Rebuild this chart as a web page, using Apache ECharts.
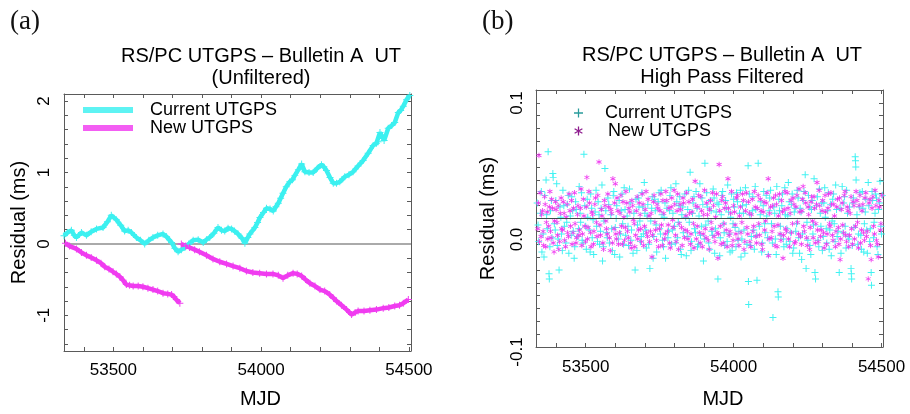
<!DOCTYPE html>
<html><head><meta charset="utf-8">
<script src="https://cdn.jsdelivr.net/npm/echarts@6/dist/echarts.min.js"></script>
<style>html,body{margin:0;padding:0;background:#fff}#c{width:910px;height:414px}</style>
</head><body><div id="c"></div>
<script>
// ---------- data ----------
const seriesNames = ['Current UTGPS', 'New UTGPS'];
const panelLabels = ['(a)', '(b)'];
const titleA = ['RS/PC UTGPS \u2013 Bulletin A  UT', '(Unfiltered)'];
const titleB = ['RS/PC UTGPS \u2013 Bulletin A  UT', 'High Pass Filtered'];
const xName = 'MJD';
const yName = 'Residual (ms)';
const xTickLabels = [53500, 54000, 54500];
const yTickLabelsA = [-1, 0, 1, 2];
const yTickLabelsB = [-0.1, 0.0, 0.1];

// (a) unfiltered residuals [MJD, ms]
const currentUnfiltered = [[53333,0.115],[53345,0.16],[53358,0.19],[53368,0.12],[53375,0.09],[53392,0.16],[53409,0.12],[53425,0.17],[53443,0.21],[53465,0.23],[53480,0.31],[53493,0.40],[53510,0.34],[53525,0.26],[53538,0.18],[53550,0.19],[53561,0.16],[53578,0.09],[53592,0.05],[53606,0.0],[53620,0.05],[53634,0.09],[53650,0.12],[53668,0.14],[53680,0.10],[53697,0.02],[53708,-0.06],[53719,-0.11],[53730,-0.08],[53742,-0.05],[53755,0.0],[53770,0.05],[53787,0.06],[53804,0.02],[53815,0.06],[53826,0.09],[53840,0.15],[53854,0.23],[53866,0.19],[53877,0.18],[53888,0.22],[53900,0.21],[53910,0.18],[53922,0.14],[53935,0.08],[53945,0.01],[53955,0.09],[53962,0.14],[53979,0.23],[53988,0.30],[53996,0.37],[54008,0.44],[54018,0.50],[54030,0.49],[54041,0.46],[54050,0.52],[54058,0.57],[54066,0.64],[54074,0.71],[54085,0.80],[54097,0.87],[54106,0.90],[54114,0.96],[54126,1.04],[54137,1.12],[54148,1.01],[54162,1.00],[54176,1.00],[54190,1.06],[54204,1.11],[54212,1.08],[54221,1.03],[54233,0.93],[54244,0.85],[54255,0.85],[54266,0.87],[54283,0.94],[54297,0.97],[54311,1.01],[54328,1.09],[54345,1.17],[54362,1.27],[54379,1.38],[54390,1.41],[54396,1.43],[54402,1.56],[54410,1.50],[54416,1.45],[54430,1.62],[54442,1.66],[54452,1.70],[54464,1.84],[54472,1.87],[54481,1.93],[54492,2.02],[54503,2.08]];
const newUnfiltered = [[53338,0.01],[53352,-0.03],[53375,-0.07],[53392,-0.12],[53409,-0.16],[53425,-0.19],[53443,-0.23],[53458,-0.27],[53471,-0.32],[53485,-0.35],[53499,-0.39],[53510,-0.42],[53522,-0.46],[53533,-0.51],[53544,-0.57],[53555,-0.58],[53567,-0.59],[53584,-0.59],[53600,-0.60],[53617,-0.62],[53634,-0.64],[53650,-0.66],[53668,-0.69],[53684,-0.70],[53697,-0.71],[53705,-0.74],[53713,-0.78],[53725,-0.83],[53727,'-'],[53730,0.0],[53745,-0.03],[53758,-0.05],[53775,-0.08],[53791,-0.11],[53815,-0.16],[53837,-0.21],[53860,-0.25],[53883,-0.28],[53905,-0.31],[53928,-0.34],[53950,-0.38],[53972,-0.40],[53995,-0.41],[54018,-0.42],[54040,-0.42],[54058,-0.44],[54074,-0.48],[54090,-0.44],[54108,-0.41],[54122,-0.42],[54137,-0.45],[54150,-0.50],[54165,-0.55],[54182,-0.59],[54199,-0.64],[54215,-0.66],[54232,-0.71],[54245,-0.76],[54255,-0.80],[54272,-0.86],[54289,-0.92],[54306,-0.99],[54318,-0.96],[54328,-0.94],[54348,-0.94],[54368,-0.93],[54390,-0.92],[54413,-0.90],[54432,-0.89],[54452,-0.87],[54468,-0.86],[54481,-0.83],[54498,-0.78]];

// (b) high pass filtered residuals [MJD, ms]
const currentFiltered = [[53336,0.012],[53341,-0.018],[53347,0.004],[53352,-0.026],[53359,-0.030],[53362,0.018],[53366,0.030],[53370,-0.008],[53373,0.052],[53376,-0.043],[53377,-0.047],[53381,0.006],[53386,-0.015],[53389,0.035],[53390,0.032],[53394,-0.004],[53399,0.014],[53404,-0.021],[53410,-0.040],[53413,0.009],[53418,-0.012],[53423,0.022],[53428,-0.006],[53433,-0.019],[53438,0.011],[53443,-0.027],[53448,0.002],[53453,0.017],[53458,-0.010],[53463,-0.022],[53468,0.007],[53473,-0.014],[53478,0.025],[53483,-0.003],[53488,-0.017],[53494,0.050],[53497,0.010],[53502,-0.024],[53507,0.001],[53512,-0.009],[53517,0.019],[53522,-0.015],[53527,-0.028],[53532,0.005],[53537,-0.006],[53542,0.013],[53547,-0.020],[53552,0.008],[53557,-0.033],[53562,-0.002],[53565,0.039],[53570,-0.011],[53575,0.016],[53580,-0.019],[53585,0.003],[53590,-0.025],[53595,0.021],[53600,-0.007],[53605,0.010],[53610,-0.016],[53615,-0.030],[53620,0.006],[53625,-0.004],[53630,0.024],[53635,-0.013],[53640,0.002],[53645,-0.021],[53650,0.012],[53655,-0.009],[53660,-0.027],[53667,-0.040],[53670,0.015],[53675,-0.005],[53680,0.009],[53685,-0.018],[53690,0.020],[53695,-0.012],[53700,0.004],[53705,-0.023],[53710,0.011],[53717,-0.039],[53720,-0.002],[53725,0.017],[53730,-0.014],[53735,0.006],[53740,-0.026],[53745,0.013],[53750,-0.008],[53755,0.022],[53760,-0.017],[53765,0.001],[53770,-0.031],[53775,0.008],[53780,-0.010],[53785,0.018],[53790,-0.020],[53795,0.004],[53800,-0.006],[53805,0.027],[53810,-0.015],[53815,0.010],[53820,-0.024],[53825,0.003],[53830,-0.011],[53835,0.019],[53840,-0.029],[53845,0.007],[53850,-0.003],[53853,0.036],[53858,-0.018],[53863,0.012],[53868,-0.008],[53873,0.021],[53878,-0.022],[53883,0.002],[53888,-0.013],[53893,0.016],[53898,-0.033],[53903,0.043],[53906,-0.005],[53911,0.009],[53916,-0.019],[53921,0.014],[53926,-0.010],[53931,0.023],[53936,-0.027],[53941,0.005],[53947,-0.047],[53950,0.011],[53955,-0.015],[53960,0.018],[53965,-0.004],[53970,-0.021],[53975,0.008],[53980,0.026],[53985,-0.012],[53990,0.001],[53995,-0.025],[54000,0.015],[54005,-0.007],[54010,0.020],[54015,-0.017],[54020,0.004],[54025,-0.030],[54030,0.010],[54035,-0.009],[54040,0.024],[54045,-0.020],[54049,0.041],[54050,-0.049],[54051,-0.067],[54055,0.003],[54060,-0.014],[54065,0.017],[54070,-0.024],[54075,0.007],[54079,-0.048],[54083,0.043],[54087,-0.006],[54092,0.013],[54097,-0.019],[54102,0.021],[54107,-0.011],[54112,0.002],[54117,-0.028],[54122,0.016],[54128,-0.004],[54133,-0.077],[54136,0.009],[54141,-0.016],[54146,0.025],[54150,-0.057],[54151,-0.061],[54155,0.006],[54160,-0.013],[54165,0.019],[54170,-0.022],[54175,0.003],[54180,-0.008],[54185,0.028],[54190,-0.018],[54195,0.011],[54200,-0.027],[54205,0.005],[54210,-0.010],[54215,0.022],[54220,-0.015],[54225,0.008],[54230,-0.032],[54235,0.014],[54242,0.034],[54245,-0.039],[54248,-0.003],[54253,0.018],[54258,-0.021],[54263,0.007],[54268,-0.012],[54272,0.031],[54275,-0.042],[54277,-0.047],[54280,0.010],[54285,-0.017],[54290,0.023],[54295,-0.006],[54300,-0.025],[54305,0.012],[54310,0.001],[54315,-0.019],[54320,0.020],[54325,-0.009],[54330,-0.029],[54335,0.015],[54340,-0.004],[54345,0.026],[54350,-0.014],[54357,-0.042],[54360,0.008],[54367,0.025],[54370,-0.011],[54375,0.017],[54380,-0.023],[54385,0.004],[54390,-0.016],[54397,-0.039],[54398,-0.043],[54399,-0.047],[54403,0.012],[54407,-0.007],[54411,0.048],[54412,0.045],[54413,0.040],[54414,0.030],[54420,-0.020],[54425,0.009],[54430,-0.013],[54435,0.021],[54440,-0.026],[54445,0.005],[54450,-0.009],[54455,0.028],[54460,-0.018],[54465,-0.042],[54466,-0.052],[54470,0.014],[54475,-0.003],[54480,0.019],[54485,-0.022],[54490,0.007],[54495,0.029],[54500,-0.012],
[53339,-0.005],[53350,0.021],[53356,-0.012],[53368,0.003],[53379,-0.022],[53384,0.014],[53397,-0.009],[53402,0.027],[53407,-0.016],[53416,0.001],[53421,-0.025],[53426,0.010],[53436,-0.003],[53441,0.018],[53451,-0.013],[53456,0.006],[53461,-0.031],[53466,0.013],[53476,-0.008],[53481,0.004],[53486,0.020],[53491,-0.019],[53500,-0.006],[53505,0.015],[53515,-0.026],[53520,0.008],[53525,-0.001],[53535,0.022],[53540,-0.018],[53545,0.003],[53550,-0.010],[53555,0.026],[53560,-0.022],[53568,0.006],[53573,-0.015],[53578,0.011],[53588,-0.008],[53593,0.018],[53598,-0.028],[53603,0.000],[53613,0.014],[53618,-0.012],[53623,0.019],[53628,-0.020],[53633,0.007],[53643,-0.006],[53648,0.023],[53653,-0.017],[53663,0.004],[53673,-0.025],[53678,0.016],[53683,-0.002],[53688,-0.014],[53693,0.009],[53698,0.028],[53703,-0.009],[53708,0.002],[53713,-0.020],[53723,0.008],[53728,-0.031],[53733,0.015],[53738,-0.005],[53748,0.020],[53753,-0.012],[53758,0.003],[53763,-0.022],[53768,0.012],[53778,-0.015],[53783,0.006],[53788,0.024],[53793,-0.009],[53803,-0.019],[53808,0.013],[53813,-0.003],[53818,0.017],[53823,-0.028],[53828,0.009],[53838,0.001],[53843,-0.014],[53848,0.022],[53856,-0.025],[53861,0.004],[53866,0.017],[53871,-0.011],[53876,0.008],[53881,-0.020],[53886,0.027],[53891,-0.006],[53896,0.011],[53901,-0.016],[53909,0.020],[53914,-0.002],[53919,-0.024],[53924,0.006],[53929,-0.013],[53934,0.016],[53939,-0.008],[53944,0.012],[53953,-0.029],[53958,0.003],[53963,0.021],[53968,-0.011],[53973,0.014],[53978,-0.018],[53983,0.005],[53988,-0.026],[53993,0.019],[53998,-0.004],[54003,0.009],[54008,-0.022],[54013,0.013],[54018,-0.010],[54023,0.022],[54028,-0.016],[54033,0.004],[54038,-0.027],[54043,0.011],[54053,0.019],[54058,-0.021],[54063,0.006],[54068,-0.009],[54073,0.025],[54078,-0.013],[54090,0.003],[54095,-0.026],[54100,0.010],[54105,-0.004],[54110,0.018],[54115,-0.015],[54120,0.006],[54125,0.022],[54131,-0.019],[54139,0.004],[54144,-0.028],[54153,0.015],[54158,-0.006],[54163,0.010],[54168,-0.016],[54173,0.024],[54178,-0.020],[54183,0.002],[54188,0.013],[54193,-0.011],[54198,0.019],[54203,-0.023],[54208,0.008],[54213,-0.004],[54218,0.016],[54223,-0.027],[54228,0.005],[54233,-0.012],[54238,0.021],[54251,-0.017],[54256,0.009],[54261,-0.028],[54266,0.014],[54270,-0.005],[54283,0.017],[54288,-0.022],[54293,0.004],[54298,0.012],[54303,-0.014],[54308,0.024],[54313,-0.008],[54318,0.006],[54323,-0.024],[54328,0.011],[54333,-0.002],[54338,0.019],[54343,-0.018],[54348,0.007],[54353,-0.010],[54363,-0.027],[54372,0.012],[54377,-0.006],[54382,0.022],[54387,-0.014],[54392,0.009],[54401,-0.021],[54405,0.016],[54417,0.003],[54422,-0.012],[54427,0.020],[54432,-0.024],[54437,0.008],[54442,-0.004],[54447,0.015],[54452,-0.027],[54457,0.010],[54462,-0.008],[54468,0.021],[54473,-0.015],[54478,0.004],[54483,0.016],[54488,-0.028],[54493,0.012],[54498,-0.006],[54503,0.018]];
const newFiltered = [[53338,-0.008],[53342,0.049],[53346,0.020],[53349,-0.014],[53354,0.006],[53358,-0.021],[53363,0.011],[53367,-0.003],[53372,-0.016],[53377,0.009],[53381,-0.010],[53385,0.015],[53390,-0.019],[53395,-0.002],[53400,0.007],[53405,-0.013],[53409,-0.024],[53414,0.004],[53419,-0.008],[53424,0.013],[53429,-0.017],[53434,0.001],[53439,-0.011],[53444,0.019],[53449,-0.006],[53454,-0.020],[53459,0.008],[53464,-0.004],[53469,-0.015],[53474,0.010],[53479,-0.009],[53484,0.023],[53489,-0.012],[53494,0.002],[53499,-0.018],[53504,0.032],[53508,-0.007],[53513,0.012],[53518,-0.022],[53523,0.003],[53528,-0.010],[53533,0.016],[53538,-0.014],[53545,0.044],[53548,-0.005],[53553,0.007],[53558,-0.019],[53563,0.014],[53568,-0.002],[53573,-0.012],[53578,0.009],[53583,-0.025],[53588,0.004],[53592,0.031],[53596,-0.008],[53600,0.027],[53604,-0.016],[53609,0.006],[53614,-0.011],[53619,0.018],[53624,-0.020],[53629,0.001],[53634,-0.007],[53639,0.012],[53644,-0.015],[53649,0.005],[53654,-0.023],[53659,0.010],[53664,-0.004],[53669,-0.013],[53674,0.017],[53679,-0.009],[53684,0.003],[53689,-0.018],[53694,0.011],[53699,-0.006],[53704,0.021],[53709,-0.014],[53714,0.002],[53719,-0.010],[53724,-0.030],[53729,0.013],[53734,-0.003],[53739,-0.017],[53744,0.008],[53749,-0.008],[53754,0.019],[53759,-0.021],[53764,0.004],[53769,-0.012],[53774,0.014],[53779,-0.005],[53784,-0.019],[53789,0.009],[53794,-0.001],[53799,0.022],[53804,-0.013],[53809,0.006],[53814,-0.024],[53819,0.011],[53824,-0.007],[53829,0.016],[53834,-0.015],[53839,0.002],[53844,-0.010],[53849,0.013],[53854,-0.020],[53859,0.005],[53864,-0.004],[53870,0.029],[53874,-0.016],[53879,0.009],[53884,-0.011],[53889,0.017],[53894,-0.022],[53899,0.003],[53904,-0.008],[53909,0.012],[53914,-0.017],[53919,0.007],[53924,-0.003],[53929,0.020],[53934,-0.014],[53939,0.001],[53944,-0.011],[53947,-0.031],[53951,0.042],[53955,-0.006],[53960,0.014],[53965,-0.019],[53970,0.008],[53975,-0.009],[53981,0.031],[53985,-0.013],[53990,0.004],[53995,-0.021],[54000,0.010],[54005,-0.005],[54010,0.016],[54015,-0.016],[54020,0.002],[54025,-0.011],[54030,0.019],[54035,-0.024],[54040,0.006],[54045,-0.007],[54050,0.013],[54055,-0.018],[54060,0.003],[54065,-0.010],[54070,0.021],[54075,-0.014],[54080,0.008],[54085,-0.004],[54090,0.015],[54095,-0.020],[54100,0.005],[54105,-0.009],[54110,0.012],[54117,0.031],[54118,-0.029],[54122,0.004],[54127,-0.015],[54132,0.010],[54137,-0.006],[54142,0.018],[54147,-0.022],[54152,0.002],[54157,-0.012],[54162,0.014],[54167,-0.031],[54171,0.007],[54176,-0.008],[54181,0.020],[54186,-0.016],[54191,0.004],[54196,-0.011],[54201,0.016],[54206,-0.019],[54211,0.009],[54216,-0.003],[54221,0.023],[54226,-0.014],[54231,0.006],[54235,0.025],[54239,-0.010],[54244,0.012],[54249,-0.021],[54254,0.003],[54259,-0.007],[54264,0.017],[54269,-0.015],[54274,0.008],[54278,-0.004],[54282,0.028],[54286,-0.018],[54291,0.010],[54296,-0.009],[54301,0.014],[54306,-0.023],[54311,0.005],[54316,-0.012],[54321,0.019],[54326,-0.006],[54331,0.011],[54336,-0.017],[54341,0.002],[54346,-0.010],[54351,0.015],[54356,-0.020],[54360,-0.032],[54364,0.007],[54369,-0.005],[54374,0.018],[54379,-0.013],[54384,0.009],[54389,-0.022],[54394,0.004],[54399,-0.008],[54404,0.013],[54409,-0.016],[54414,0.021],[54419,-0.003],[54424,0.010],[54429,-0.019],[54434,0.006],[54439,-0.011],[54444,0.016],[54449,-0.014],[54455,-0.047],[54458,0.012],[54465,-0.032],[54468,0.008],[54473,-0.006],[54478,0.022],[54483,-0.017],[54489,-0.030],[54493,0.009],[54498,-0.004],
[53340,0.012],[53344,-0.018],[53351,0.003],[53356,-0.010],[53361,0.017],[53365,-0.022],[53370,0.005],[53375,-0.006],[53379,0.021],[53383,-0.015],[53388,0.008],[53393,-0.026],[53398,0.013],[53403,-0.003],[53407,0.010],[53412,-0.018],[53417,0.016],[53422,-0.009],[53427,0.004],[53432,-0.022],[53437,0.011],[53442,-0.014],[53447,0.006],[53452,0.014],[53457,-0.011],[53462,0.020],[53467,-0.019],[53472,0.003],[53477,-0.013],[53482,0.008],[53487,-0.021],[53492,0.015],[53497,-0.006],[53502,0.009],[53506,-0.016],[53511,0.021],[53516,-0.011],[53521,0.005],[53526,-0.020],[53531,0.011],[53536,-0.003],[53541,0.018],[53550,-0.013],[53555,0.002],[53560,-0.024],[53565,0.010],[53570,-0.008],[53575,0.019],[53580,-0.015],[53585,0.007],[53590,-0.019],[53598,0.012],[53602,-0.012],[53606,0.016],[53611,-0.020],[53616,0.004],[53621,-0.006],[53626,0.013],[53631,-0.017],[53636,0.021],[53641,-0.010],[53646,0.008],[53651,-0.019],[53656,0.014],[53661,-0.001],[53666,-0.022],[53671,0.006],[53676,-0.016],[53681,0.012],[53686,-0.008],[53691,0.019],[53696,-0.021],[53701,0.007],[53706,-0.011],[53711,0.015],[53716,-0.018],[53721,0.004],[53726,-0.013],[53731,0.018],[53736,-0.009],[53741,0.011],[53746,-0.022],[53751,0.006],[53756,-0.005],[53761,0.014],[53766,-0.016],[53771,0.021],[53776,-0.010],[53781,0.008],[53786,-0.023],[53791,0.016],[53796,-0.007],[53801,0.011],[53806,-0.018],[53811,0.019],[53816,-0.004],[53821,0.007],[53826,-0.021],[53831,0.012],[53836,-0.009],[53841,0.020],[53846,-0.016],[53851,0.004],[53856,-0.012],[53861,0.015],[53866,-0.023],[53872,0.010],[53877,-0.006],[53882,0.018],[53887,-0.019],[53892,0.006],[53897,-0.012],[53902,0.022],[53907,-0.015],[53912,0.003],[53917,-0.024],[53922,0.014],[53927,-0.008],[53932,0.010],[53937,-0.018],[53942,0.019],[53949,-0.012],[53953,0.006],[53958,-0.020],[53963,0.017],[53968,-0.004],[53973,0.012],[53978,-0.022],[53983,0.008],[53988,-0.010],[53993,0.021],[53998,-0.017],[54003,0.005],[54008,-0.012],[54013,0.018],[54018,-0.021],[54023,0.009],[54028,-0.003],[54033,0.014],[54038,-0.018],[54043,0.020],[54048,-0.012],[54053,0.004],[54058,-0.022],[54063,0.015],[54068,-0.006],[54073,0.009],[54078,-0.019],[54083,0.018],[54088,-0.013],[54093,0.006],[54098,-0.024],[54103,0.013],[54108,-0.002],[54113,0.020],[54120,-0.016],[54125,0.009],[54130,-0.010],[54135,0.016],[54140,-0.021],[54145,0.011],[54150,-0.005],[54155,0.019],[54160,-0.017],[54165,0.005],[54169,-0.013],[54174,0.021],[54179,-0.010],[54184,0.008],[54189,-0.022],[54194,0.014],[54199,-0.004],[54204,0.011],[54209,-0.018],[54214,0.018],[54219,-0.012],[54224,0.005],[54229,-0.020],[54233,0.015],[54237,-0.006],[54242,0.020],[54247,-0.015],[54252,0.009],[54257,-0.024],[54262,0.013],[54267,-0.002],[54272,0.017],[54276,-0.019],[54280,0.011],[54284,-0.009],[54289,0.022],[54294,-0.014],[54299,0.006],[54304,-0.011],[54309,0.018],[54314,-0.020],[54319,0.008],[54324,-0.004],[54329,0.020],[54334,-0.013],[54339,0.011],[54344,-0.022],[54349,0.009],[54354,-0.007],[54358,0.016],[54362,-0.016],[54367,0.012],[54372,-0.011],[54377,0.021],[54382,-0.018],[54387,0.006],[54392,-0.013],[54397,0.017],[54402,-0.020],[54407,0.010],[54412,-0.006],[54417,0.014],[54422,-0.023],[54427,0.018],[54432,-0.009],[54437,0.011],[54442,-0.017],[54447,0.020],[54452,-0.010],[54461,0.015],[54463,-0.021],[54471,0.017],[54476,-0.012],[54481,0.010],[54486,-0.020],[54491,0.014],[54496,-0.009],[54501,0.018]];

// ---------- styling ----------
const FONT = 'Liberation Sans';
const CYAN = '#3cf0f0', MAGENTA = '#f03cf0';
const FRAME = '#5a5a5a';
const PLUS = 'path://M4.3,0H5.7V4.3H10V5.7H5.7V10H4.3V5.7H0V4.3H4.3Z';
const STAR = 'path://M4.3,0L5.7,0L5.7,10L4.3,10Z M1.02,1.89L9.68,6.89L8.98,8.11L0.32,3.11Z M0.32,6.89L8.98,1.89L9.68,3.11L1.02,8.11Z';

function range(a, b, step) { const out = []; for (let v = a; v <= b + step / 2; v += step) out.push(Math.round(v / step) * step); return out.map(v => +v.toFixed(6)); }
const xTicks = range(53400, 54500, 100);
const yTicksA = range(-1.4, 2.0, 0.2);
const yTicksB = range(-0.09, 0.09, 0.01);

function baseAxis(min, max, ticks, gridIndex, position) {
  return {
    type: 'value', gridIndex, position, min, max,
    axisLine: { show: true, onZero: false, lineStyle: { color: FRAME, width: 1 } },
    axisTick: { show: true, inside: true, length: 4, customValues: ticks, lineStyle: { color: FRAME } },
    splitLine: { show: false },
    axisLabel: { show: false }
  };
}

const xMin = 53333, xMax = 54507;
const xAxes = [
  Object.assign(baseAxis(xMin, xMax, xTicks, 0, 'bottom'), {
    name: xName, nameLocation: 'middle', nameGap: 38,
    nameTextStyle: { fontFamily: FONT, fontSize: 20, color: '#000', padding: [0, 0, 0, 46] },
    axisLabel: { show: true, customValues: xTickLabels, margin: 11, fontFamily: FONT, fontSize: 17, color: '#000', formatter: v => String(v) }
  }),
  baseAxis(xMin, xMax, xTicks, 0, 'top'),
  Object.assign(baseAxis(53332, 54505, xTicks, 1, 'bottom'), {
    name: xName, nameLocation: 'middle', nameGap: 42,
    nameTextStyle: { fontFamily: FONT, fontSize: 20, color: '#000', padding: [0, 0, 0, 27] },
    axisLabel: { show: true, customValues: xTickLabels, margin: 12, fontFamily: FONT, fontSize: 17, color: '#000', formatter: v => String(v) }
  }),
  baseAxis(53332, 54505, xTicks, 1, 'top')
];
const labelShiftB = { '0.1': 26, '0.0': 42, '-0.1': 10 };
const yAxes = [
  Object.assign(baseAxis(-1.5, 2.1, yTicksA, 0, 'left'), {
    name: yName, nameLocation: 'middle', nameGap: 35, nameRotate: 90,
    nameTextStyle: { fontFamily: FONT, fontSize: 20, color: '#000' },
    axisLabel: { show: true, customValues: yTickLabelsA, rotate: 90, margin: 11, fontFamily: FONT, fontSize: 17, color: '#000', formatter: v => String(v) }
  }),
  baseAxis(-1.5, 2.1, yTicksA, 0, 'right'),
  Object.assign(baseAxis(-0.1, 0.1, yTicksB, 1, 'left'), {
    name: yName, nameLocation: 'middle', nameGap: 38, nameRotate: 90,
    nameTextStyle: { fontFamily: FONT, fontSize: 20, color: '#000' },
    axisLabel: {
      show: true, customValues: yTickLabelsB, rotate: 90, margin: 10, fontFamily: FONT, fontSize: 17, color: '#000',
      formatter: v => { const t = v.toFixed(1); return '{s' + labelShiftB[t] + '|' + t + '}'; },
      rich: { s26: { padding: [0, 26, 0, 0] }, s42: { padding: [0, 42, 0, 0] }, s10: { padding: [0, 10, 0, 0] } }
    }
  }),
  baseAxis(-0.1, 0.1, yTicksB, 1, 'right')
];

const option = {
  animation: false,
  backgroundColor: '#fff',
  textStyle: { fontFamily: FONT },
  title: [
    { text: panelLabels[0], left: 10, top: 8, padding: 0, textStyle: { fontFamily: 'Liberation Serif', fontSize: 27, fontWeight: 'normal', color: '#111' } },
    { text: panelLabels[1], left: 482, top: 8, padding: 0, textStyle: { fontFamily: 'Liberation Serif', fontSize: 27, fontWeight: 'normal', color: '#111' } },
    { text: titleA.join('\n'), left: 261, top: 45, textAlign: 'center', padding: 0, textStyle: { fontFamily: FONT, fontSize: 20, lineHeight: 22, fontWeight: 'normal', color: '#000' } },
    { text: titleB.join('\n'), left: 722, top: 44, textAlign: 'center', padding: 0, textStyle: { fontFamily: FONT, fontSize: 20, lineHeight: 22, fontWeight: 'normal', color: '#000' } }
  ],
  legend: [
    { orient: 'vertical', left: 83, top: 101, padding: 0, itemWidth: 50, itemHeight: 6, itemGap: 0, selectedMode: false,
      textStyle: { fontFamily: FONT, fontSize: 18, lineHeight: 18, color: '#000', padding: [0, 0, 0, 12] },
      data: [ { name: seriesNames[0], icon: 'rect', itemStyle: { color: '#5ef3f3' } },
              { name: seriesNames[1], icon: 'rect', itemStyle: { color: '#f35ef3' } } ] },
    { orient: 'vertical', left: 574, top: 104, padding: 0, itemWidth: 9, itemHeight: 9, itemGap: 0, selectedMode: false,
      textStyle: { fontFamily: FONT, fontSize: 18, lineHeight: 17, color: '#000' },
      data: [ { name: seriesNames[0], icon: PLUS, itemStyle: { color: '#2a9c9c', borderWidth: 0 }, textStyle: { padding: [0, 0, 0, 17] } },
              { name: seriesNames[1], icon: STAR, itemStyle: { color: '#8e1c8e', borderWidth: 0 }, textStyle: { padding: [0, 0, 0, 20] } } ] }
  ],
  grid: [
    { left: 64, top: 94, width: 347, height: 261 },
    { left: 536, top: 90, width: 347, height: 261 }
  ],
  xAxis: xAxes,
  yAxis: yAxes,
  series: [
    { name: seriesNames[0], type: 'line', xAxisIndex: 0, yAxisIndex: 0, data: currentUnfiltered,
      showSymbol: true, symbol: PLUS, symbolSize: 7, lineStyle: { color: CYAN, width: 4.5 }, itemStyle: { color: CYAN }, z: 3,
      markLine: { silent: true, symbol: ['none', 'none'], label: { show: false }, lineStyle: { color: '#aaaaaa', width: 2, type: 'solid' }, data: [{ yAxis: 0 }], z: 1 } },
    { name: seriesNames[1], type: 'line', xAxisIndex: 0, yAxisIndex: 0, data: newUnfiltered, connectNulls: false,
      showSymbol: true, symbol: PLUS, symbolSize: 7, lineStyle: { color: MAGENTA, width: 4.5 }, itemStyle: { color: MAGENTA }, z: 3 },
    { name: seriesNames[0], type: 'scatter', xAxisIndex: 2, yAxisIndex: 2, data: currentFiltered,
      symbol: PLUS, symbolSize: 7, itemStyle: { color: '#40f2f2', opacity: 1 },
      markLine: { silent: true, symbol: ['none', 'none'], label: { show: false }, lineStyle: { color: '#3d4a4a', width: 1, type: 'solid' }, data: [{ yAxis: 0 }] } },
    { name: seriesNames[1], type: 'scatter', xAxisIndex: 2, yAxisIndex: 2, data: newFiltered,
      symbol: STAR, symbolSize: 5.5, itemStyle: { color: '#f03cf0', opacity: 1 } }
  ]
};
const chart = echarts.init(document.getElementById('c'), null, { renderer: 'canvas' });
chart.setOption(option);
</script>
</body></html>
